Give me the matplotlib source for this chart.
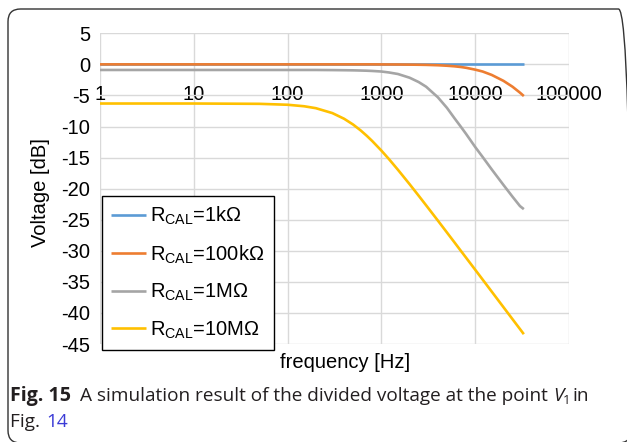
import matplotlib
matplotlib.use("Agg")
import matplotlib.pyplot as plt
from matplotlib.patches import FancyBboxPatch

plt.rcParams['font.family'] = ['Liberation Sans', 'DejaVu Sans']
plt.rcParams['mathtext.fontset'] = 'custom'
plt.rcParams['mathtext.rm'] = 'Liberation Sans'
plt.rcParams['mathtext.it'] = 'Liberation Sans:italic'
plt.rcParams['axes.unicode_minus'] = False

# frequenzen [Hz] und spannungen [dB]
freq = [1, 10, 50, 100, 150, 200, 300, 400, 500, 600, 700, 800,
        1000, 1200, 1500, 2000, 2500, 3000, 4000, 5000, 6000, 7000, 8000,
        10000, 12000, 15000, 20000, 25000, 30000, 33000]
v_1k = [0, 0, 0, 0, 0, 0, 0, 0, 0, 0, 0, 0,
        0, 0, 0, 0, 0, 0, 0, 0, 0, 0, 0,
        0, 0, 0, 0, 0, 0, 0]
v_100k = [0, 0, 0, 0, 0, 0, 0, 0, 0, 0, 0, 0,
          -0.01, -0.015, -0.02, -0.04, -0.06, -0.08, -0.14, -0.22, -0.31, -0.42, -0.55,
          -0.85, -1.15, -1.7, -2.65, -3.6, -4.55, -5.1]
v_1M = [-0.9, -0.9, -0.9, -0.9, -0.9, -0.9, -0.92, -0.94, -0.96, -0.99, -1.02, -1.06,
        -1.15, -1.3, -1.55, -2.15, -2.85, -3.6, -5.3, -7.0, -8.65, -10.0, -11.2,
        -13.3, -14.9, -16.9, -19.4, -21.3, -22.8, -23.3]
v_10M = [-6.3, -6.3, -6.35, -6.5, -6.74, -7.05, -7.84, -8.75, -9.69, -10.62, -11.51, -12.35,
         -13.88, -15.22, -16.96, -19.29, -21.15, -22.69, -25.14, -27.06, -28.63, -29.97, -31.12,
         -33.05, -34.63, -36.57, -39.07, -41.01, -42.59, -43.42]

labels = [r'R$_{\mathrm{CAL}}$=1kΩ', r'R$_{\mathrm{CAL}}$=100kΩ',
          r'R$_{\mathrm{CAL}}$=1MΩ', r'R$_{\mathrm{CAL}}$=10MΩ']
colors = ['#5b9bd5', '#ed7d31', '#a5a5a5', '#ffc000']

x_ticks = [1, 10, 100, 1000, 10000, 100000]
x_ticklabels = ['1', '10', '100', '1000', '10000', '100000']
y_ticks = [5, 0, -5, -10, -15, -20, -25, -30, -35, -40, -45]

W, H = 627, 442


def fx(px):
    return px / W


def fy(py):
    return 1 - py / H


fig = plt.figure(figsize=(W / 100, H / 100), dpi=100)
ax = fig.add_axes([fx(100), fy(344), 469 / W, 310.7 / H])

for serie, lab, col in zip([v_1k, v_100k, v_1M, v_10M], labels, colors):
    ax.plot(freq, serie, color=col, lw=1.9, label=lab, solid_capstyle='butt')

ax.set_xscale('log')
ax.set_xlim(1, 100000)
ax.set_ylim(-45, 5)
ax.set_xticks(x_ticks)
ax.set_xticklabels(x_ticklabels)
ax.minorticks_off()
ax.set_yticks(y_ticks)
ax.set_yticklabels([str(v) for v in y_ticks])
ax.grid(True, color='#d9d9d9', lw=1.0)
ax.set_axisbelow(True)
for s in ax.spines.values():
    s.set_visible(False)
ax.spines['bottom'].set_position(('data', 0))
ax.tick_params(axis='x', length=0, pad=14.5, labelsize=14.5)
ax.tick_params(axis='y', length=0, pad=7, labelsize=14.5)

fig.text(fx(41), fy(193), 'Voltage [dB]', rotation=90, ha='center',
         va='center', fontsize=14.5)
fig.text(fx(345), fy(362), 'frequency [Hz]', ha='center', va='center',
         fontsize=14.5)

leg = ax.legend(loc='upper left', bbox_to_anchor=(fx(102), fy(196)),
                bbox_transform=fig.transFigure, fontsize=14.5, frameon=True,
                fancybox=False, framealpha=1, edgecolor='black',
                handlelength=1.75, handletextpad=0.2, labelspacing=0.8,
                borderpad=0.45, borderaxespad=0)
leg.get_frame().set_linewidth(1.0)

# rahmen um die abbildung
fig.patches.append(FancyBboxPatch((fx(8), fy(443)), fx(631) - fx(8), fy(9) - fy(443),
                                  boxstyle='round,pad=0,rounding_size=0.02',
                                  transform=fig.transFigure, fill=False,
                                  edgecolor='#333333', lw=1.0,
                                  mutation_aspect=W / H))

# bildunterschrift
cap_font = ['Open Sans', 'DejaVu Sans']
cap_col = '#231f20'
renderer = fig.canvas.get_renderer()


def put(x, y, s, size, width=None, **kw):
    t = fig.text(fx(x), fy(y), s, ha='left', va='baseline', family=cap_font,
                 color=kw.pop('color', cap_col), fontsize=size, **kw)
    if width is not None:
        t.set_fontsize(size * width / t.get_window_extent(renderer).width)
    return t.get_window_extent(renderer).x1, t.get_fontsize()


put(10, 401, 'Fig. 15', 12, width=61, weight='bold')
x, fs = put(80, 401, 'A simulation result of the divided voltage at the point ', 12, width=472)
x, _ = put(x, 401, 'V', fs, style='italic')
x, _ = put(x, 403.5, '1', fs * 0.7)
put(x + 2, 401, 'in', fs)
x, _ = put(10, 427, 'Fig. ', fs)
put(x + 1, 427, '14', fs, color='#3b3bd6')

fig.savefig('out.png', dpi=100)
